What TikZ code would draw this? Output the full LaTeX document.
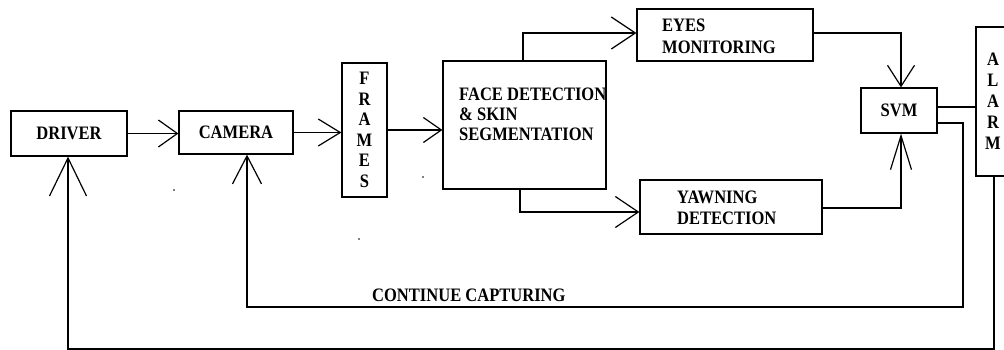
\documentclass[tikz,border=0pt]{standalone}
\usepackage{fontspec}
\setmainfont{Liberation Serif}[FakeStretch=0.87]
\usetikzlibrary{arrows.meta}
\tikzset{
  box/.style={draw, rectangle, line width=1.2pt, inner sep=0pt,
    font=\fontsize{19}{20}\selectfont\bfseries},
  lbl/.style={inner sep=0pt, font=\fontsize{19}{20}\selectfont\bfseries},
  link/.style={line width=1.2pt},
  arr/.style 2 args={-{Straight Barb[length=#1,width=#2]}}
}
\begin{document}
\begin{tikzpicture}[x=1pt,y=-1pt]
\useasboundingbox (0,0) rectangle (1004,350);
\clip (0,0) rectangle (1004,350);
\fill[white] (0,0) rectangle (1004,350);

% processing blocks
\node[box, minimum width=116pt, minimum height=45pt] (driver) at (69,133.5) {DRIVER};
\node[box, minimum width=114pt, minimum height=43pt] (camera) at (236,132.5) {CAMERA};
\node[box, minimum width=45pt, minimum height=134pt, align=center,
  font=\fontsize{19}{20.5}\selectfont\bfseries] (frames) at (364.5,130) {F\\R\\A\\M\\E\\S};
\node[box, minimum width=163pt, minimum height=128pt] (face) at (524.5,125) {};
\node[lbl, anchor=west, align=left] (facetxt) at (459,114) {FACE DETECTION\\\& SKIN\\SEGMENTATION};
\node[box, minimum width=176pt, minimum height=52pt] (eyes) at (725,35) {};
\node[lbl, anchor=west, align=left, font=\fontsize{19}{22}\selectfont\bfseries] (eyestxt) at (662,36) {EYES\\MONITORING};
\node[box, minimum width=182pt, minimum height=54pt] (yawn) at (731,207) {};
\node[lbl, anchor=west, align=left, font=\fontsize{19}{21}\selectfont\bfseries] (yawntxt) at (677,208) {YAWNING\\DETECTION};
\node[box, minimum width=76pt, minimum height=45pt] (svm) at (899,110.5) {SVM};
\node[box, minimum width=34pt, minimum height=149pt, align=center,
  font=\fontsize{19}{21}\selectfont\bfseries] (alarm) at (993,101.5) {A\\L\\A\\R\\M};

% forward flow
\draw[link, arr={19pt}{27pt}] (driver.east) -- (driver.east -| camera.west);
\draw[link, arr={22pt}{27pt}] (camera.east) -- (camera.east -| frames.west);
\draw[link, arr={18pt}{25pt}] (frames.east) -- (frames.east -| face.west);

\coordinate (fup) at ([xshift=-1.5pt]face.north);
\coordinate (ein) at ([yshift=2pt]eyes.west);
\draw[link, arr={24pt}{32pt}] (fup) |- (ein);
\coordinate (fdn) at ([xshift=-4.5pt]face.south);
\coordinate (yin) at ([yshift=-5pt]yawn.west);
\draw[link, arr={23pt}{31pt}] (fdn) |- (yin);

\coordinate (eout) at ([yshift=2pt]eyes.east);
\coordinate (stop) at ([xshift=2pt]svm.north);
\draw[link, arr={21pt}{27pt}] (eout) -| (stop);
\coordinate (yout) at ([yshift=-1pt]yawn.east);
\coordinate (sbot) at ([xshift=2pt]svm.south);
\draw[link, arr={34pt}{21pt}] (yout) -| (sbot);

\coordinate (sa) at ([yshift=3.5pt]svm.east);
\draw[link] (sa) -- (sa -| alarm.west);

% feedback loops
\coordinate (cs) at ([yshift=-12.5pt]svm.east);
\coordinate (cr) at (963,307);
\coordinate (cc) at ([xshift=11pt]camera.south);
\draw[link, arr={28pt}{29pt}] (cs) -| (cr) -| (cc);
\node[lbl, anchor=west] (cap) at (372,295) {CONTINUE CAPTURING};

\coordinate (ab) at ([xshift=1pt]alarm.south);
\coordinate (br) at (994,349);
\coordinate (dd) at ([xshift=-1pt]driver.south);
\draw[link, arr={38pt}{37pt}] (ab) -- (br) -| (dd);

% small specks
\fill (174,190) circle (0.9);
\fill (423,177) circle (0.9);
\fill (359,239) circle (0.9);
\end{tikzpicture}
\end{document}
